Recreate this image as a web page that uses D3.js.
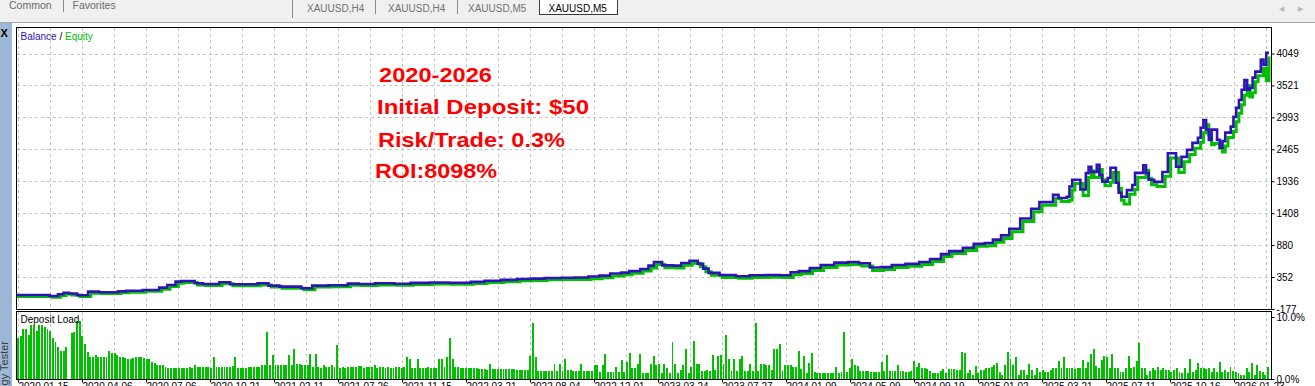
<!DOCTYPE html>
<html><head><meta charset="utf-8">
<script src="https://cdn.jsdelivr.net/npm/d3@7"></script>
<style>
html,body{margin:0;padding:0;background:#fff;overflow:hidden}
svg{display:block}
</style></head><body>
<svg id="c" width="1315" height="386"></svg>
<script>
// ---------------- DATA ----------------
const topTabs = ["Common", "Favorites"];
const symbolTabs = ["XAUUSD,H4", "XAUUSD,H4", "XAUUSD,M5", "XAUUSD,M5"];
const legendParts = ["Balance", " / ", "Equity"];
const balanceTicks = [-177, 352, 880, 1408, 1936, 2465, 2993, 3521, 4049];
const loadTicks = [0, 10];
const dateLabels = ["2020.01.15","2020.04.06","2020.07.06","2020.10.21","2021.02.11","2021.07.26","2021.11.15","2022.03.21","2022.08.04","2022.12.01","2023.03.24","2023.07.27","2024.01.09","2024.05.09","2024.09.19","2025.01.02","2025.03.21","2025.07.11","2025.10.16","2026.01.23"];
const annotations = ["2020-2026", "Initial Deposit: $50", "Risk/Trade: 0.3%", "ROI:8098%"];
const tradeCount = 458;

// [trade #, balance $]
const balance = [[0,55],[12,38],[15,66],[17,93],[19,80],[22,50],[26,110],[30,100],[37,115],[40,126],[46,138],[52,176],[55,220],[58,275],[60,287],[65,248],[68,237],[74,265],[78,232],[88,248],[92,209],[96,193],[104,166],[108,209],[114,215],[121,242],[125,237],[131,248],[138,240],[144,255],[151,262],[158,258],[166,272],[171,290],[177,305],[183,320],[188,325],[193,335],[199,340],[204,345],[209,360],[213,375],[217,410],[221,425],[224,450],[228,485],[231,540],[233,600],[236,545],[240,540],[243,585],[246,620],[249,570],[251,490],[253,420],[257,385],[263,365],[268,380],[274,385],[279,380],[283,430],[286,450],[290,500],[294,550],[299,590],[304,600],[308,580],[312,510],[316,515],[320,550],[325,570],[330,600],[334,650],[338,730],[341,780],[346,835],[350,900],[354,915],[357,970],[360,1040],[363,1150],[367,1320],[371,1480],[374,1590],[378,1590],[379,1710],[381,1660],[384,1680],[385,1850],[386,1960],[389,1800],[391,2070],[392,2175],[393,2090],[395,2210],[396,2040],[397,1930],[399,1990],[400,2160],[402,1910],[403,1745],[404,1680],[406,1790],[408,1875],[409,2075],[412,2200],[413,2075],[414,1960],[416,1925],[419,2090],[421,2400],[424,2175],[426,2340],[428,2455],[430,2570],[432,2655],[433,2820],[434,2950],[435,2790],[436,2620],[437,2790],[439,2620],[440,2490],[441,2600],[442,2740],[444,2840],[445,3000],[446,3150],[447,3280],[448,3450],[449,3610],[450,3450],[451,3480],[452,3650],[453,3750],[455,3950],[456,3860],[457,4060],[458,4060]];

// [trade #, equity $]
const equity = [[0,30],[13,18],[16,45],[18,70],[20,55],[23,28],[27,85],[31,78],[38,92],[41,102],[47,115],[53,150],[56,195],[59,250],[61,260],[66,222],[69,212],[75,240],[79,208],[89,222],[93,185],[97,168],[105,140],[109,185],[115,190],[122,215],[126,212],[132,222],[139,215],[145,230],[152,236],[159,232],[167,246],[172,262],[178,275],[184,290],[189,295],[194,305],[200,310],[205,312],[210,325],[214,340],[218,370],[222,390],[225,415],[229,450],[232,500],[234,560],[237,505],[241,500],[244,545],[247,580],[250,520],[252,440],[254,380],[258,345],[264,330],[269,345],[275,350],[280,345],[284,390],[287,410],[291,460],[295,510],[300,550],[305,560],[309,535],[313,460],[317,475],[321,510],[326,530],[331,560],[335,610],[339,690],[342,740],[347,790],[351,860],[355,870],[358,925],[361,990],[364,1100],[368,1270],[372,1430],[375,1540],[379,1540],[380,1650],[382,1600],[385,1620],[386,1790],[387,1900],[390,1700],[392,2000],[393,2110],[394,2000],[396,2130],[397,1960],[398,1860],[400,1920],[401,2080],[403,1820],[404,1620],[405,1560],[407,1720],[409,1800],[410,2000],[413,2120],[414,1980],[415,1880],[417,1850],[420,2020],[422,2320],[425,2080],[427,2260],[429,2380],[431,2480],[433,2580],[434,2740],[435,2870],[436,2700],[437,2540],[438,2560],[440,2480],[441,2420],[442,2520],[443,2660],[445,2760],[446,2920],[447,3060],[448,3200],[449,3360],[450,3520],[451,3330],[452,3400],[453,3580],[454,3680],[456,3800],[457,3600],[458,4000]];

// deposit load per trade, %
const depositLoad = [6.6,6.9,8.0,8.0,7.1,8.7,8.7,7.7,8.7,8.7,8.4,8.0,7.7,6.6,6.0,5.2,4.5,4.5,5.2,0,7.4,7.6,9.4,9.4,6.9,5.6,4.4,3.6,3.6,3.9,3.5,3.6,3.6,3.5,4.5,4.2,4.2,3.9,3.6,3.6,3.4,3.2,3.2,3.4,3.6,3.6,3.5,3.4,3.2,3.2,2.8,2.6,2.3,2.3,2.2,2.0,1.8,1.8,1.8,1.7,1.7,1.7,1.7,1.8,2.0,1.8,2.2,2.0,2.0,1.9,2.0,2.0,1.7,3.6,1.9,2.0,1.9,2.0,2.0,2.0,2.1,3.6,1.8,1.8,1.8,1.8,2.0,2.0,2.0,2.0,2.0,2.3,2.3,7.6,2.3,3.9,2.3,2.3,2.3,2.3,2.3,3.9,2.3,4.8,2.5,2.4,2.3,2.2,2.3,4.0,2.0,4.0,2.0,1.8,2.2,2.0,2.0,2.2,2.0,5.5,1.8,2.0,1.8,2.0,2.0,2.0,2.0,2.1,2.1,1.8,2.0,2.0,2.0,2.2,1.8,2.0,2.0,1.8,2.0,1.8,1.8,2.0,2.0,1.8,2.0,3.6,3.2,1.7,1.7,3.2,1.7,1.7,1.8,
2.0,1.7,1.7,1.7,3.3,3.3,2.0,3.5,6.6,3.3,2.0,2.0,1.7,1.7,1.7,1.7,1.7,1.7,1.7,1.6,1.6,1.6,1.45,2.5,1.6,1.6,1.6,1.6,1.6,1.6,1.6,1.6,1.6,1.45,1.45,1.45,1.45,1.45,3.7,9.1,3.6,1.3,1.3,1.3,1.3,1.3,1.3,2.4,1.3,2.4,1.3,3.3,1.45,1.45,1.3,1.3,1.3,2.4,1.3,1.3,1.3,1.3,2.3,2.3,1.2,2.3,4.1,1.2,1.2,1.2,2.0,1.2,3.1,1.2,2.8,4.2,1.8,1.8,2.5,4.0,0.9,0.9,0.9,2.4,3.7,2.3,2.5,0.9,2.4,1.7,1.0,5.9,2.5,0.9,1.45,2.3,4.8,0.9,2.0,6.1,2.4,2.4,1.3,1.3,1.45,1.3,3.9,1.45,3.7,3.9,2.5,7.1,3.3,1.3,3.3,1.3,3.2,3.7,1.3,1.3,2.5,1.3,9.0,1.3,2.4,2.4,2.3,2.3,1.45,4.9,4.8,5.6,1.3,2.3,2.3,2.2,1.9,1.9,4.5,1.6,3.7,1.0,2.6,4.2,1.2,1.0,1.0,1.0,1.0,1.0,1.0,1.0,2.0,1.0,1.2,7.6,1.2,1.8,3.2,2.3,
2.1,1.3,1.3,1.3,1.3,1.2,1.2,1.2,1.2,2.8,1.3,3.9,1.3,1.3,1.3,2.3,1.3,1.3,1.2,1.2,1.3,2.9,2.0,2.6,1.7,1.7,1.6,1.3,0.9,0.9,0.9,1.3,1.6,0.9,1.6,1.6,1.6,1.45,1.45,4.4,4.2,0.9,1.45,0.65,2.1,0.9,1.45,1.45,1.8,1.7,2.0,2.3,2.6,1.2,0.65,2.3,4.4,3.3,2.3,3.6,0.65,1.45,1.45,0.65,2.4,1.45,0.65,1.7,1.2,1.45,1.2,1.2,1.45,1.7,1.8,2.9,1.7,3.6,1.7,1.7,1.7,1.6,1.8,1.7,3.1,1.7,2.8,4.1,4.8,2.1,1.7,3.1,3.7,3.6,1.7,4.1,1.7,1.7,1.2,1.2,1.7,3.7,1.7,2.0,2.9,5.8,1.7,1.7,0.65,1.3,1.8,1.45,2.0,1.45,1.8,1.45,1.45,1.2,1.45,1.7,1.2,0.9,1.7,0.9,3.3,1.2,1.45,2.6,1.7,1.7,1.6,1.7,1.2,1.8,1.2,2.8,1.2,1.45,1.2,2.0,1.3,1.2,0.9,0.65,0.65,1.7,1.2,2.6,0.65,2.3,1.3,1.2,0.65,2.0];

// ---------------- LAYOUT ----------------
const W = 1315, H = 386;
const FONT = "'Liberation Sans', Arial, sans-serif";
const plotL = 16.5, plotR = 1271.5, mainT = 27.5, mainB = 309.5, loadT = 311.5, loadB = 379.5;
const C = { balance: "#2e14b8", equity: "#00c000", bars: "#00c000", grid: "#c4c4c4", red: "#ff0000" };

const svg = d3.select("#c");
svg.append("rect").attr("width", W).attr("height", H).attr("fill", "#fff");

// top tab bar
svg.append("rect").attr("width", W).attr("height", 22).attr("fill", "#f0f0f0");
svg.append("line").attr("x1", 0).attr("x2", W).attr("y1", 22.5).attr("y2", 22.5).attr("stroke", "#a8a8a8");
svg.append("rect").attr("x", 539.5).attr("y", -1.5).attr("width", 78).attr("height", 16)
  .attr("fill", "#fff").attr("stroke", "#3a3a3a");
const tabG = svg.append("g").attr("font-family", FONT).attr("font-size", 10.5);
const topTabX = [9, 72.5];
tabG.selectAll("text.tt").data(topTabs).join("text").attr("class", "tt")
  .attr("x", (d, i) => topTabX[i]).attr("y", 8.5).attr("fill", "#6a6a6a").text(d => d);
const sepX = [63.5, 292.5, 375.5, 457.5];
const sepH = [12, 18, 14, 14];
tabG.selectAll("line.sep").data(sepX).join("line").attr("class", "sep")
  .attr("x1", d => d).attr("x2", d => d).attr("y1", 0).attr("y2", (d, i) => sepH[i])
  .attr("stroke", "#8c8c8c");
const symX = [307, 388, 468, 548.5];
tabG.selectAll("text.st").data(symbolTabs).join("text").attr("class", "st")
  .attr("x", (d, i) => symX[i]).attr("y", 11.5).attr("font-size", 10)
  .attr("fill", (d, i) => i === 3 ? "#000" : "#707070").text(d => d);
tabG.append("text").attr("x", 1279).attr("y", 11).attr("font-size", 7).attr("fill", "#b8b8b8").text("◀");
tabG.append("text").attr("x", 1298).attr("y", 11).attr("font-size", 7).attr("fill", "#b8b8b8").text("▶");

// left strip
svg.append("rect").attr("x", 0).attr("y", 23).attr("width", 12).attr("height", H - 23).attr("fill", "#9db8d6");
svg.append("text").attr("x", 0.5).attr("y", 37).attr("font-family", FONT).attr("font-weight", "bold")
  .attr("font-size", 11).attr("fill", "#000").text("X");
svg.append("text").attr("transform", "translate(8,341) rotate(-90)").attr("text-anchor", "end")
  .attr("font-family", FONT).attr("font-size", 11).attr("fill", "#3a3a3a").text("Strategy Tester");

// ---------------- SCALES ----------------
const xTrade = d3.scaleLinear().domain([0, tradeCount]).range([17, 1269]);
const xBar = d3.scaleBand().domain(d3.range(depositLoad.length)).range([17, 1269]).paddingInner(0.28).paddingOuter(0);
const yBal = d3.scaleLinear().domain([-177, 4049]).range([309, 53.5]);
const yLoad = d3.scaleLinear().domain([0, 10]).range([379, 317]);
const xDate = d3.scalePoint().domain(dateLabels).range([18, 1234]);
const half = xDate.step() / 2;

// panels
svg.append("rect").attr("x", plotL).attr("y", mainT).attr("width", plotR - plotL).attr("height", mainB - mainT).attr("fill", "#fff");
svg.append("rect").attr("x", plotL).attr("y", loadT).attr("width", plotR - plotL).attr("height", loadB - loadT).attr("fill", "#fff");

// grid
const gridX = [];
dateLabels.forEach(d => { gridX.push(xDate(d)); gridX.push(xDate(d) + half); });
const gridG = svg.append("g").attr("stroke", C.grid).attr("stroke-dasharray", "3,3").attr("shape-rendering", "crispEdges");
[[mainT, mainB], [loadT, loadB]].forEach(([t, b]) => {
  gridG.append("g").selectAll("line").data(gridX).join("line")
    .attr("x1", d => Math.round(d) + 0.5).attr("x2", d => Math.round(d) + 0.5).attr("y1", t).attr("y2", b);
});
gridG.append("g").selectAll("line").data(balanceTicks).join("line")
  .attr("x1", plotL).attr("x2", plotR)
  .attr("y1", d => Math.round(yBal(d)) + 0.5).attr("y2", d => Math.round(yBal(d)) + 0.5);

// clip
svg.append("clipPath").attr("id", "clipMain").append("rect")
  .attr("x", plotL).attr("y", mainT).attr("width", plotR - plotL).attr("height", mainB - mainT);

const lineGen = d3.line().x(d => xTrade(d[0])).y(d => yBal(d[1])).curve(d3.curveStepAfter);
const lines = svg.append("g").attr("clip-path", "url(#clipMain)");
lines.append("path").datum(equity).attr("d", lineGen).attr("fill", "none")
  .attr("stroke", C.equity).attr("stroke-width", 3);
lines.append("path").datum(balance).attr("d", lineGen).attr("fill", "none")
  .attr("stroke", C.balance).attr("stroke-width", 2.6);

// deposit load bars
svg.append("g").attr("shape-rendering", "crispEdges").selectAll("rect").data(depositLoad).join("rect")
  .attr("x", (d, i) => xBar(i)).attr("width", xBar.bandwidth())
  .attr("y", d => yLoad(d)).attr("height", d => 379 - yLoad(d)).attr("fill", C.bars);

// frames
[[mainT, mainB], [loadT, loadB]].forEach(([t, b]) => {
  svg.append("rect").attr("x", plotL).attr("y", t).attr("width", plotR - plotL).attr("height", b - t)
    .attr("fill", "none").attr("stroke", "#000").attr("shape-rendering", "crispEdges");
});

// axes
function styleAxis(g) {
  g.select(".domain").remove();
  g.selectAll("line").attr("stroke", "#000");
  g.selectAll("text").attr("font-family", FONT).attr("font-size", 10).attr("fill", "#000");
}
svg.append("g").attr("transform", `translate(${plotR},0)`)
  .call(d3.axisRight(yBal).tickValues(balanceTicks).tickSize(3).tickPadding(2).tickFormat(d => String(d)))
  .call(styleAxis);
svg.append("g").attr("transform", `translate(${plotR},0)`)
  .call(d3.axisRight(yLoad).tickValues(loadTicks).tickSize(3).tickPadding(2).tickFormat(d => d.toFixed(1) + "%"))
  .call(styleAxis);
svg.append("g").attr("transform", `translate(0,${loadB})`)
  .call(d3.axisBottom(xDate).tickSize(3).tickPadding(0))
  .call(styleAxis)
  .call(g => g.selectAll("text").attr("text-anchor", "start").attr("x", 0));

// legend
const leg = svg.append("text").attr("x", 20.5).attr("y", 39.5).attr("font-family", FONT).attr("font-size", 10);
const legColors = [C.balance, "#000", C.equity];
leg.selectAll("tspan").data(legendParts).join("tspan").attr("fill", (d, i) => legColors[i]).text(d => d)
  .attr("xml:space", "preserve");
svg.append("text").attr("x", 20.5).attr("y", 322.5).attr("font-family", FONT).attr("font-size", 10)
  .attr("fill", "#000").text("Deposit Load");

// annotations
const noteX = [379, 377, 378, 375], noteY = [82, 114, 147, 178], noteW = [113, 212, 187, 122];
svg.append("g").selectAll("text").data(annotations).join("text")
  .attr("x", (d, i) => noteX[i]).attr("y", (d, i) => noteY[i])
  .attr("textLength", (d, i) => noteW[i]).attr("lengthAdjust", "spacingAndGlyphs")
  .attr("font-family", FONT).attr("font-weight", "bold").attr("font-size", 21)
  .attr("fill", C.red).text(d => d);
</script>
</body></html>
